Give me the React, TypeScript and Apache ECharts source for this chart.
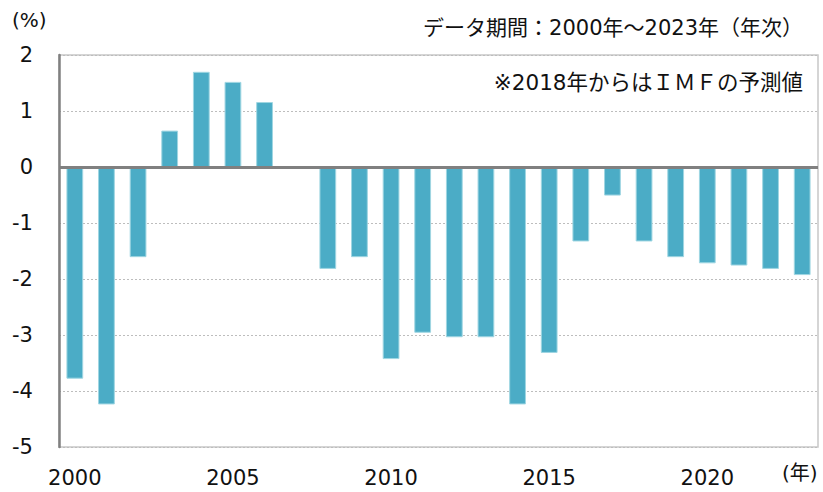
import React, { useEffect, useRef } from "react";
import * as echarts from "echarts";

const years: string[] = [
  "2000", "2001", "2002", "2003", "2004", "2005", "2006", "2007", "2008", "2009",
  "2010", "2011", "2012", "2013", "2014", "2015", "2016", "2017", "2018", "2019",
  "2020", "2021", "2022", "2023",
];

const values: (number | null)[] = [
  -3.78, -4.24, -1.61, 0.65, 1.7, 1.52, 1.16, null, -1.82, -1.61,
  -3.43, -2.96, -3.04, -3.04, -4.24, -3.32, -1.33, -0.51, -1.33, -1.61,
  -1.72, -1.76, -1.82, -1.93,
];

const yMin = -5;
const yMax = 2;
const yStep = 1;

const titleText = "データ期間：2000年～2023年（年次）";
const noteText = "※2018年からはＩＭＦの予測値";
const yUnit = "(%)";
const xUnit = "(年)";

const FONT = "DejaVu Sans, Noto Sans CJK JP, sans-serif";

export default function App() {
  const ref = useRef<HTMLDivElement>(null);

  useEffect(() => {
    if (!ref.current) return;
    const chart = echarts.init(ref.current, undefined, { renderer: "svg" });
    chart.setOption({
      animation: false,
      textStyle: { fontFamily: FONT },
      grid: {
        left: 59,
        right: 5,
        top: 55,
        bottom: 45,
        show: true,
        borderColor: "#c8c8c8",
        borderWidth: 1.5,
      },
      xAxis: {
        type: "category",
        data: years,
        axisLine: { show: false, onZero: false },
        axisTick: { show: false },
        axisLabel: {
          interval: (i: number) => i % 5 === 0,
          fontSize: 21,
          color: "#111",
          margin: 20,
          fontFamily: FONT,
        },
      },
      yAxis: {
        type: "value",
        min: yMin,
        max: yMax,
        interval: yStep,
        axisLine: { show: true, lineStyle: { color: "#808080", width: 2.5 } },
        axisTick: { show: false },
        axisLabel: {
          fontSize: 21,
          color: "#111",
          margin: 26,
          fontFamily: FONT,
        },
        splitLine: {
          show: true,
          lineStyle: { color: "#bdbdbd", type: [2, 2], width: 1 },
        },
      },
      series: [
        {
          type: "bar",
          data: values,
          barWidth: "53%",
          itemStyle: {
            color: "#4BACC6",
            borderColor: "#9fd6e2",
            borderWidth: 1,
          },
          markLine: {
            silent: true,
            symbol: "none",
            label: { show: false },
            lineStyle: { color: "#808080", width: 3, type: "solid" },
            data: [{ yAxis: 0 }],
          },
        },
      ],
      graphic: [
        {
          type: "text",
          right: 20,
          top: 17,
          style: { text: titleText, fontSize: 21, fontFamily: FONT, fill: "#111" },
        },
        {
          type: "text",
          right: 20,
          top: 72,
          style: { text: noteText, fontSize: 21.5, fontFamily: FONT, fill: "#111" },
        },
        {
          type: "text",
          left: 12,
          top: 10,
          style: { text: yUnit, fontSize: 20, fontFamily: FONT, fill: "#111" },
        },
        {
          type: "text",
          left: 782,
          top: 463,
          style: { text: xUnit, fontSize: 20, fontFamily: FONT, fill: "#111" },
        },
      ],
    });
    return () => chart.dispose();
  }, []);

  return <div ref={ref} style={{ width: 823, height: 492, position: "absolute", left: 0, top: 0 }} />;
}
